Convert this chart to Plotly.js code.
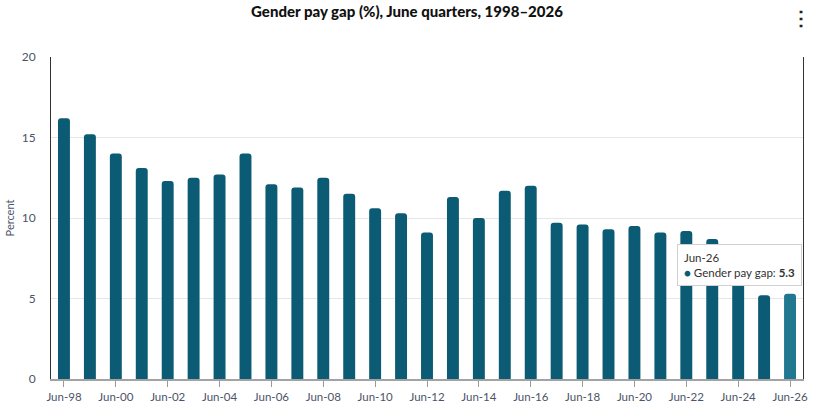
<!DOCTYPE html>
<html>
<head>
<meta charset="utf-8">
<script src="https://cdn.plot.ly/plotly-3.0.1.min.js"></script>
<style>
  html, body { margin: 0; padding: 0; background: #fff; }
  #chart { width: 814px; height: 413px; }
</style>
</head>
<body>
<div id="chart"></div>
<script>
// June quarters, 1998 to 2026
const quarters = [
    'Jun-98', 'Jun-99', 'Jun-00', 'Jun-01', 'Jun-02', 'Jun-03', 'Jun-04', 'Jun-05',
    'Jun-06', 'Jun-07', 'Jun-08', 'Jun-09', 'Jun-10', 'Jun-11', 'Jun-12', 'Jun-13',
    'Jun-14', 'Jun-15', 'Jun-16', 'Jun-17', 'Jun-18', 'Jun-19', 'Jun-20', 'Jun-21',
    'Jun-22', 'Jun-23', 'Jun-24', 'Jun-25', 'Jun-26'
];

const payGap = [
    16.2, 15.2, 14.0, 13.1, 12.3, 12.5, 12.7, 14.0,
    12.1, 11.9, 12.5, 11.5, 10.6, 10.3, 9.1, 11.3,
    10.0, 11.7, 12.0, 9.7, 9.6, 9.3, 9.5, 9.1,
    9.2, 8.7, 8.2, 5.2, 5.3
];

const tickLabels = [
    'Jun-98', 'Jun-00', 'Jun-02', 'Jun-04', 'Jun-06', 'Jun-08', 'Jun-10', 'Jun-12',
    'Jun-14', 'Jun-16', 'Jun-18', 'Jun-20', 'Jun-22', 'Jun-24', 'Jun-26'
];

const yTicks = [0, 5, 10, 15, 20];

const barColour = '#0a5b73';
const hoverColour = '#21778f';
const labelColour = '#4b5468';
const font = 'Lato, "Open Sans", sans-serif';

// the last bar is the one under the tooltip
const colours = quarters.map((q, i) => i === quarters.length - 1 ? hoverColour : barColour);

const trace = {
    x: quarters,
    y: payGap,
    type: 'bar',
    name: 'Gender pay gap',
    marker: { color: colours, cornerradius: 3 },
    hoverinfo: 'none'
};

const last = quarters.length - 1;

const layout = {
    width: 814,
    height: 413,
    margin: { l: 51, r: 11, t: 57, b: 34 },
    paper_bgcolor: '#fff',
    plot_bgcolor: '#fff',
    font: { family: font, color: labelColour, size: 12 },
    title: {
        text: 'Gender pay gap (%), June quarters, 1998–2026',
        font: { family: font, size: 15, color: '#111', weight: 900 },
        x: 0.5, xanchor: 'center',
        y: 0.972, yanchor: 'middle'
    },
    bargap: 0.54,
    showlegend: false,
    xaxis: {
        type: 'category',
        tickmode: 'array',
        tickvals: tickLabels,
        ticktext: tickLabels,
        ticks: 'outside',
        ticklen: 6,
        tickcolor: '#9a9a9a',
        tickfont: { size: 11.5, color: labelColour },
        showline: true,
        linecolor: '#a3a3a3',
        linewidth: 2,
        showgrid: false,
        fixedrange: true
    },
    yaxis: {
        range: [0, 20],
        tickmode: 'array',
        tickvals: yTicks,
        ticks: '',
        ticklabelstandoff: 12,
        tickfont: { size: 12, color: labelColour },
        showgrid: true,
        gridcolor: '#e6e6e6',
        zeroline: false,
        showline: true,
        mirror: true,
        linecolor: '#333',
        linewidth: 1,
        title: {
            text: 'Percent',
            font: { size: 11, color: labelColour },
            standoff: 4
        },
        fixedrange: true
    },
    annotations: [
        {
            x: quarters[last],
            y: payGap[last],
            xref: 'x', yref: 'y',
            text: 'Jun-26<br><span style="color:' + barColour + '">●</span> Gender pay gap: <b>' + payGap[last].toFixed(1) + '</b>',
            showarrow: false,
            xanchor: 'right',
            yanchor: 'bottom',
            xshift: 12,
            yshift: 8,
            align: 'left',
            bgcolor: '#fff',
            bordercolor: '#d0d0d0',
            borderwidth: 1,
            borderpad: 6,
            font: { family: font, size: 11.5, color: '#333' }
        },
        {
            // menu dots, top right
            x: 1, y: 1,
            xref: 'paper', yref: 'paper',
            text: '<b>⋮</b>',
            showarrow: false,
            xshift: 10,
            yshift: 54,
            font: { size: 20, color: '#222' }
        }
    ]
};

Plotly.newPlot('chart', [trace], layout, { displayModeBar: false, staticPlot: true });
</script>
</body>
</html>
